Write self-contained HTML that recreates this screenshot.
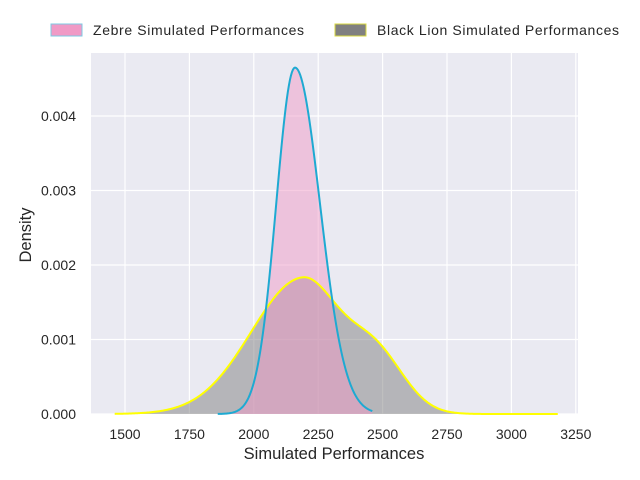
<!DOCTYPE html>
<html><head><meta charset="utf-8"><style>
html,body{margin:0;padding:0;background:#fff;}
svg{display:block;font-family:"Liberation Sans",sans-serif;}
</style></head><body>
<svg id="s" width="640" height="480" viewBox="0 0 640 480">
<rect x="91" y="53" width="487" height="361" fill="#eaeaf2"/>
<g id="grid" stroke="#fff" stroke-width="1.2"></g>
<path id="lionF" fill="#808080" fill-opacity="0.5"/>
<path id="zebF" fill="#f09ac6" fill-opacity="0.5"/>
<path id="lionL" fill="none" stroke="#ffff00" stroke-width="2"/>
<path id="zebL" fill="none" stroke="#1eaad2" stroke-width="2"/>
<g id="lab" font-size="14" fill="#262626"></g>
<text x="334" y="459" font-size="16.5" text-anchor="middle" fill="#262626">Simulated Performances</text>
<text transform="translate(31,235) rotate(-90)" font-size="16.5" text-anchor="middle" fill="#262626">Density</text>
<rect x="51" y="24" width="31" height="12" fill="#f09ac6" stroke="#7ec8e3" stroke-width="1"/>
<text x="93" y="35" font-size="14" fill="#262626" textLength="211">Zebre Simulated Performances</text>
<rect x="335" y="24" width="31" height="12" fill="#808080" stroke="#d8d840" stroke-width="1"/>
<text x="377" y="35" font-size="14" fill="#262626" textLength="242">Black Lion Simulated Performances</text>
</svg>
<script>
var X=function(v){return 125+(v-1500)*0.2576;},Y=function(d){return 414-d*74500;};
var g=document.getElementById('grid'),lab=document.getElementById('lab'),ns='http://www.w3.org/2000/svg';
function el(p,t,a,txt){var e=document.createElementNS(ns,t);for(var k in a)e.setAttribute(k,a[k]);if(txt)e.textContent=txt;p.appendChild(e);}
for(var v=1500;v<=3250;v+=250){var x=X(v);if(x<578)el(g,'line',{x1:x,x2:x,y1:53,y2:414});el(lab,'text',{x:x,y:439,'text-anchor':'middle'},String(v));}
for(var i=0;i<=4;i++){var y=Y(i*0.001);el(g,'line',{x1:91,x2:578,y1:y,y2:y});el(lab,'text',{x:76,y:y+5,'text-anchor':'end'},(i*0.001).toFixed(3));}
function sn(v,m,l,r){var s=v<m?l:r;return Math.exp(-0.5*Math.pow((v-m)/s,2));}
function zeb(v){return 0.00465*sn(v,2160,73,97);}
function lion(v){return 0.00182*sn(v,2190,200,150)+0.0007*sn(v,2480,105,110);}
function build(f,a,b){var pts=[];for(var v=a;v<=b;v+=4)pts.push(X(v).toFixed(2)+','+Y(f(v)).toFixed(2));return pts;}
var lp=build(lion,1460,3180),zp=build(zeb,1860,2460);
document.getElementById('lionL').setAttribute('d','M'+lp.join('L'));
document.getElementById('zebL').setAttribute('d','M'+zp.join('L'));
document.getElementById('lionF').setAttribute('d','M'+X(1460)+',414L'+lp.join('L')+'L'+X(3180)+',414Z');
document.getElementById('zebF').setAttribute('d','M'+X(1860)+',414L'+zp.join('L')+'L'+X(2460)+',414Z');
</script>
</body></html>
